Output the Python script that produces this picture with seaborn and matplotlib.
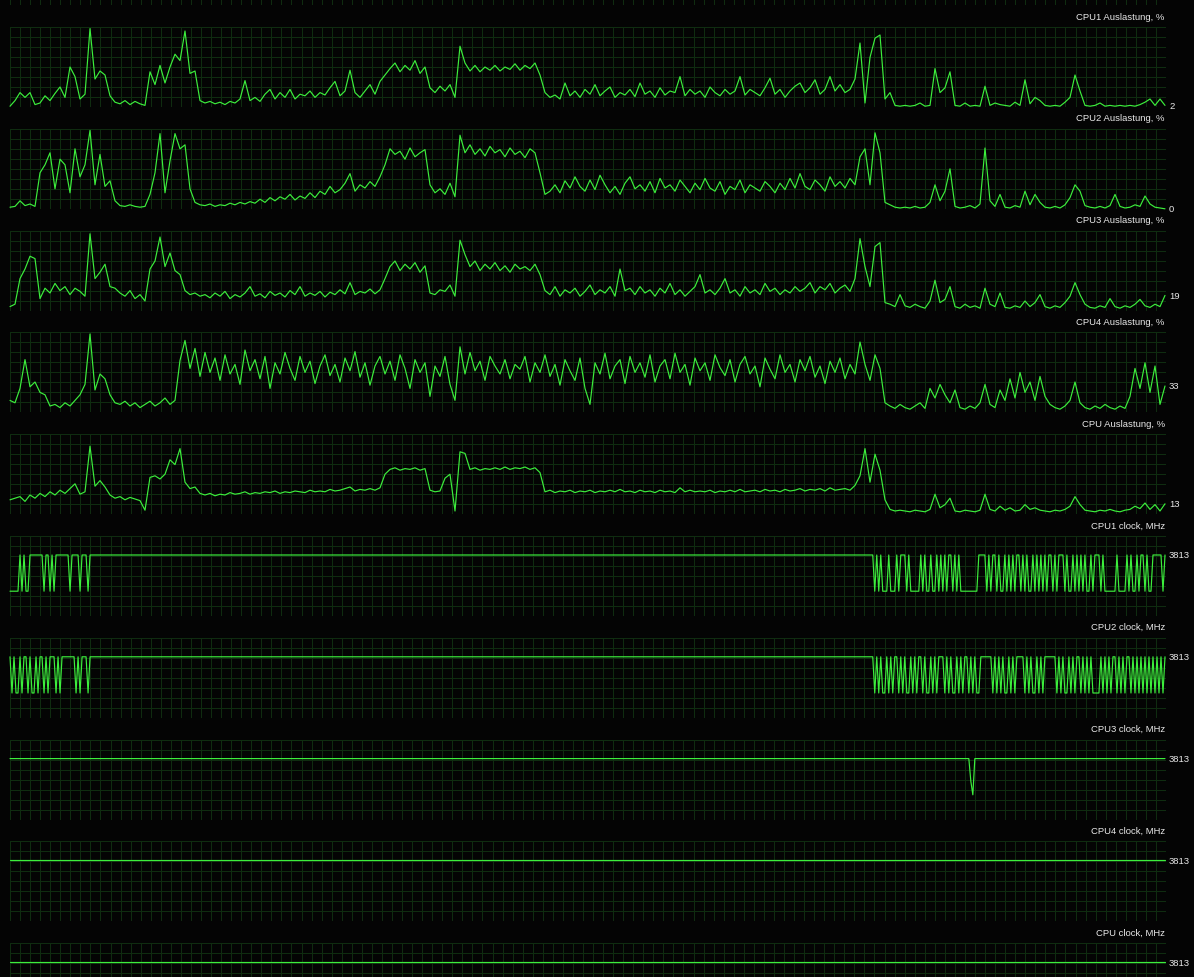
import numpy as np
import matplotlib
matplotlib.use("Agg")
import matplotlib.pyplot as plt
import matplotlib.transforms as mtransforms
import seaborn as sns

# ---- load values in %, one sample every 5 px (x = 10 ... 1165) ----
cpu1_load = [
    1, 8, 18, 12, 18, 3, 5, 14, 8, 17, 25, 12, 50, 38, 10, 16, 98, 35, 45, 40,
    14, 6, 4, 8, 3, 7, 4, 2, 44, 28, 52, 30, 50, 66, 58, 95, 42, 45, 8, 5,
    7, 4, 6, 3, 7, 5, 10, 33, 8, 12, 7, 16, 22, 10, 18, 12, 22, 10, 16, 14,
    20, 12, 18, 15, 24, 32, 14, 20, 46, 18, 12, 20, 28, 16, 32, 40, 48, 55, 44, 52,
    46, 58, 42, 50, 24, 18, 26, 20, 28, 12, 76, 55, 45, 52, 44, 50, 46, 52, 45, 50,
    47, 54, 46, 52, 48, 55, 40, 18, 12, 15, 10, 30, 14, 20, 12, 22, 16, 28, 14, 20,
    25, 12, 18, 15, 22, 13, 30, 16, 20, 12, 24, 15, 20, 18, 38, 14, 22, 16, 20, 12,
    25, 18, 14, 22, 16, 20, 38, 15, 22, 18, 14, 24, 36, 16, 22, 12, 20, 26, 30, 18,
    24, 34, 16, 22, 38, 20, 28, 18, 22, 35, 80, 5, 62, 86, 90, 10, 18, 2, 1, 2,
    1, 2, 5, 1, 2, 48, 18, 24, 44, 2, 1, 5, 1, 2, 1, 26, 2, 5, 3, 2,
    1, 6, 2, 34, 4, 12, 8, 2, 1, 2, 1, 6, 12, 40, 20, 2, 1, 2, 5, 1,
    2, 1, 2, 1, 2, 1, 3, 6, 10, 2, 10, 2,
]
cpu2_load = [
    2, 3, 10, 4, 6, 3, 45, 55, 70, 25, 62, 55, 20, 75, 40, 55, 98, 30, 68, 28,
    35, 10, 4, 3, 5, 3, 2, 3, 18, 45, 94, 20, 60, 94, 75, 80, 25, 8, 5, 4,
    6, 3, 5, 4, 7, 5, 8, 6, 9, 7, 12, 8, 14, 10, 15, 12, 18, 11, 16, 13,
    20, 14, 22, 18, 28, 20, 24, 32, 44, 22, 30, 26, 34, 28, 40, 55, 75, 68, 72, 62,
    76, 65, 70, 74, 30, 20, 25, 18, 32, 15, 92, 70, 80, 68, 75, 66, 78, 70, 74, 65,
    76, 68, 72, 64, 75, 70, 45, 18, 22, 30, 20, 35, 26, 40, 28, 22, 36, 24, 42, 30,
    20, 28, 18, 32, 40, 25, 30, 22, 34, 20, 38, 26, 30, 22, 36, 28, 20, 32, 24, 38,
    26, 22, 34, 18, 28, 24, 36, 20, 30, 26, 22, 34, 28, 20, 32, 24, 38, 26, 44, 28,
    24, 36, 30, 22, 40, 28, 34, 26, 38, 30, 65, 75, 30, 95, 70, 8, 5, 2, 1, 2,
    1, 3, 1, 2, 8, 30, 10, 22, 50, 3, 1, 2, 4, 1, 6, 76, 10, 3, 18, 2,
    1, 4, 2, 22, 5, 18, 8, 2, 1, 3, 1, 5, 14, 30, 22, 4, 2, 1, 3, 1,
    4, 18, 3, 1, 2, 5, 3, 16, 6, 2, 1, 0,
]
cpu3_load = [
    5, 8, 40, 52, 68, 65, 15, 28, 22, 34, 25, 30, 20, 28, 24, 18, 96, 40, 48, 58,
    30, 28, 22, 18, 25, 15, 20, 12, 52, 62, 92, 55, 72, 50, 45, 25, 20, 22, 18, 20,
    16, 22, 18, 24, 15, 20, 17, 22, 30, 18, 21, 16, 24, 19, 22, 17, 25, 20, 30, 18,
    22, 19, 24, 17, 23, 20, 26, 21, 35, 20, 24, 22, 27, 21, 26, 40, 55, 62, 50, 58,
    52, 60, 48, 56, 22, 20, 26, 24, 32, 18, 88, 70, 55, 62, 50, 58, 52, 60, 50, 56,
    48, 58, 52, 55, 50, 58, 45, 25, 20, 30, 18, 26, 22, 28, 18, 24, 32, 20, 26, 22,
    30, 18, 52, 25, 28, 20, 30, 22, 26, 18, 28, 22, 34, 20, 26, 18, 24, 30, 45, 22,
    26, 20, 28, 40, 22, 26, 18, 30, 22, 26, 20, 34, 24, 28, 20, 26, 22, 30, 24, 28,
    35, 22, 30, 26, 34, 22, 28, 32, 24, 40, 90, 55, 30, 80, 85, 10, 8, 5, 20, 6,
    4, 8, 5, 3, 12, 38, 10, 14, 30, 5, 3, 8, 4, 6, 3, 28, 8, 5, 22, 4,
    3, 6, 4, 12, 5, 10, 20, 5, 3, 6, 4, 10, 18, 35, 20, 8, 4, 3, 6, 4,
    15, 5, 3, 6, 4, 8, 14, 6, 4, 8, 5, 19,
]
cpu4_load = [
    15, 12, 30, 66, 32, 38, 25, 22, 8, 10, 6, 12, 8, 15, 22, 35, 98, 28, 48, 42,
    22, 12, 10, 14, 8, 12, 6, 10, 14, 8, 12, 18, 10, 15, 65, 90, 55, 80, 45, 75,
    50, 68, 40, 72, 48, 60, 35, 78, 52, 66, 42, 70, 30, 62, 48, 75, 55, 40, 70, 50,
    64, 36, 58, 72, 46, 60, 38, 68, 52, 76, 44, 62, 34, 58, 70, 48, 64, 40, 72, 55,
    30, 66, 50, 62, 20, 58, 45, 70, 35, 15, 82, 48, 75, 52, 64, 40, 70, 58, 48, 66,
    42, 60, 54, 70, 38, 62, 50, 72, 45, 60, 34, 66, 52, 40, 68, 30, 10, 62, 48, 74,
    42, 58, 66, 36, 70, 50, 62, 44, 72, 38, 58, 66, 42, 74, 50, 60, 34, 68, 52, 62,
    40, 72, 56, 46, 66, 38, 60, 70, 48, 58, 32, 68, 54, 42, 72, 50, 60, 38, 66, 52,
    70, 44, 58, 36, 64, 50, 68, 42, 60, 48, 88, 60, 40, 72, 55, 12, 8, 5, 10, 6,
    4, 8, 12, 5, 30, 18, 35, 22, 12, 28, 6, 4, 8, 5, 12, 35, 10, 6, 28, 15,
    42, 18, 50, 25, 38, 15, 45, 20, 10, 6, 4, 8, 15, 38, 12, 6, 4, 8, 5, 10,
    6, 4, 8, 5, 20, 55, 30, 62, 25, 58, 10, 33,
]
cpu_load = [
    18, 20, 22, 16, 24, 20, 26, 22, 28, 24, 30, 26, 32, 38, 25, 28, 85, 35, 42, 34,
    24, 20, 22, 18, 21, 19, 17, 5, 46, 48, 44, 50, 68, 62, 82, 40, 32, 34, 26, 24,
    26, 23, 25, 24, 27, 25, 26, 28, 25, 27, 26, 28, 27, 29, 26, 28, 27, 29, 28, 27,
    30, 28, 29, 28, 31, 29, 30, 32, 34, 29, 31, 30, 32, 30, 33, 50, 56, 58, 55, 57,
    56, 58, 55, 57, 30, 28, 29, 45, 50, 4, 78, 76, 56, 58, 55, 57, 56, 58, 56, 59,
    56, 58, 57, 59, 56, 58, 52, 28, 30, 27, 29, 28, 30, 27, 29, 28, 30, 27, 29, 28,
    30, 28, 31, 28, 29, 27, 30, 28, 29, 27, 30, 28, 29, 27, 33, 28, 30, 28, 29, 28,
    30, 27, 29, 28, 30, 28, 31, 28, 29, 30, 28, 31, 29, 30, 28, 31, 29, 30, 32, 29,
    31, 30, 32, 29, 33, 30, 31, 32, 30, 36, 48, 82, 40, 75, 55, 18, 6, 4, 5, 4,
    3, 5, 4, 3, 6, 25, 8, 12, 20, 4, 3, 5, 4, 3, 5, 25, 6, 4, 10, 5,
    8, 4, 5, 12, 6, 8, 5, 4, 3, 5, 4, 6, 10, 22, 12, 5, 4, 3, 5, 4,
    6, 4, 3, 5, 6, 10, 7, 14, 6, 12, 4, 13,
]

# ---- clock states, one sample every 2 px: H = 3813 MHz, L = idle, M = between ----
clock_mhz = {"H": 3813, "M": 2400, "L": 1550}
cpu1_clock = (
    "LLLLLHLHLLHHHHHHHLHHLHLHHHHHHHLHHHHLHHHLH"
    + "H" * 391
    + "LHLHLLLHLLLHLHHHLHLLLLLHLHLLHLLHLHLHLHHLHLH"
    + "LLLLLLLLLHHHHLHLHHLHLLHLHLHLHHLHLHLLHLHLH"
    + "LHLHHLHLHHHLHLLHLHLHLHLLHLHHHLHLLLLLLHLLLL"
    + "HLHLLHLHHLHLLHHHHHLH"
)
cpu2_clock = (
    "HLHLLHLHHLHLLHLHHLHLHHHLHLHHHHHHHLHLHHHLH"
    + "H" * 391
    + "LHLHLLHLHLHHLHLHLLHLHLHHLHLLHLHLHHHLHLHL"
    + "LHLHLHHLHLHLLHHHHHHLHLHLHLLHLHLHHHHLHLHL"
    + "LHLHLHHHHHHLHLHLLHLHLHHLHLHLHLLLLHLHLHLH"
    + "HLHLHLHHLHLHLHLHLHLHLHLHLH"
)
cpu3_clock = "H" * 480 + "ML" + "H" * 96
cpu4_clock = "H" * 578
cpu_all_clock = "H" * 578

titles = [
    "CPU1 Auslastung, %", "CPU2 Auslastung, %", "CPU3 Auslastung, %",
    "CPU4 Auslastung, %", "CPU Auslastung, %",
    "CPU1 clock, MHz", "CPU2 clock, MHz", "CPU3 clock, MHz",
    "CPU4 clock, MHz", "CPU clock, MHz",
]
current_labels = ["2", "0", "19", "33", "13", "3813", "3813", "3813", "3813", "3813"]

loads = [cpu1_load, cpu2_load, cpu3_load, cpu4_load, cpu_load]
clocks = [[clock_mhz[s] for s in c]
          for c in (cpu1_clock, cpu2_clock, cpu3_clock, cpu4_clock, cpu_all_clock)]
series = [(v, 100) for v in loads] + [(v, 5000) for v in clocks]

BG = "#040404"
GRID = "#0f2c10"
LINE = "#3cee3c"
TXT = "#e8e8e8"

sns.set_theme(style="dark", rc={"axes.facecolor": BG, "figure.facecolor": BG})
plt.rcParams["font.family"] = ["Liberation Sans", "DejaVu Sans"]

W, H = 1194, 978
X0, XW = 10, 1156       # grid left edge and width in px
PH = 80                 # panel height in px
STEP = 101.8            # panel pitch in px
TOP0 = 28               # top of first panel

fig = plt.figure(figsize=(W / 100, H / 100), dpi=100)
fig.patch.set_facecolor(BG)


def grid_axes(top, ymax):
    ax = fig.add_axes([X0 / W, 1 - (top + PH) / H, XW / W, PH / H])
    ax.set_facecolor(BG)
    ax.set_xlim(0, XW)
    ax.set_ylim(0, ymax)
    ax.set_xticks(np.linspace(0, XW, 116))
    ax.set_yticks(np.linspace(0, ymax, 9))
    ax.grid(True, color=GRID, linewidth=0.72)
    ax.tick_params(length=0, labelbottom=False, labelleft=False)
    for s in ax.spines.values():
        s.set_visible(False)
    return ax


# panel scrolled off the top of the window: only its grid shows
grid_axes(TOP0 - STEP, 100)

for k, ((vals, ymax), title, cur) in enumerate(zip(series, titles, current_labels)):
    top = TOP0 + k * STEP
    ax = grid_axes(top, ymax)
    xs = np.linspace(0, XW - 1, len(vals))
    sns.lineplot(x=xs, y=vals, ax=ax, color=LINE, linewidth=0.85,
                 estimator=None, sort=False)
    ax.lines[-1].set_clip_on(False)
    ax.set(xlabel="", ylabel="")
    ax.text(0.999, 1 + 11 / PH, title, transform=ax.transAxes,
            ha="right", va="center", color=TXT, fontsize=6.8)
    trans = mtransforms.blended_transform_factory(ax.transAxes, ax.transData)
    ax.text(1 + 3 / XW, vals[-1], cur, transform=trans, ha="left", va="center",
            color=TXT, fontsize=6.8, clip_on=False)

fig.savefig("out.png", dpi=100, facecolor=BG)
